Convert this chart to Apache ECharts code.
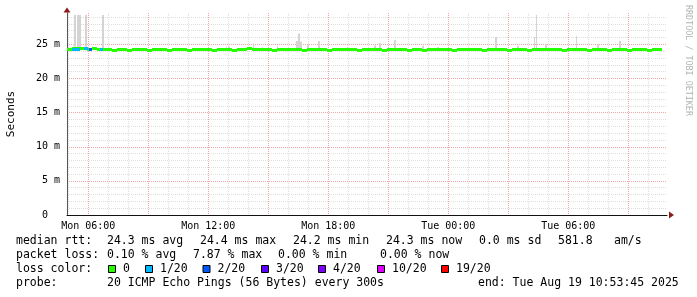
<!DOCTYPE html>
<html><head><meta charset="utf-8">
<script src="https://cdn.jsdelivr.net/npm/echarts@6/dist/echarts.min.js"></script>
<style>html,body{margin:0;padding:0;background:#fff}#c{width:697px;height:297px}</style>
</head><body><div id="c"></div>
<script>
// time in hours since Mon 00:00
const X_MIN = 4.935, X_MAX = 34.935;
const T0 = 4.95, STEP = 0.25;
const median = [
24.3,24.4,24.4,24.4,24.3,24.4,24.3,24.3,24.3,24.2,
24.3,24.3,24.2,24.3,24.3,24.3,24.2,24.3,24.3,24.3,
24.2,24.3,24.3,24.3,24.2,24.3,24.3,24.3,24.3,24.2,
24.3,24.3,24.3,24.2,24.3,24.3,24.4,24.3,24.3,24.3,
24.3,24.2,24.3,24.3,24.3,24.3,24.3,24.2,24.3,24.3,
24.3,24.3,24.2,24.3,24.3,24.3,24.3,24.3,24.2,24.3,
24.3,24.3,24.3,24.2,24.3,24.3,24.3,24.3,24.2,24.3,
24.3,24.2,24.3,24.3,24.3,24.3,24.3,24.2,24.3,24.3,
24.3,24.3,24.3,24.2,24.3,24.3,24.3,24.3,24.2,24.3,
24.3,24.3,24.2,24.3,24.3,24.3,24.3,24.3,24.3,24.2,
24.3,24.3,24.3,24.3,24.2,24.3,24.3,24.3,24.2,24.3,
24.3,24.3,24.2,24.3,24.3,24.3,24.2,24.3,24.3
];
const lossStart = [5.19, 5.76, 6.05, 6.59];
const lossEnd   = [5.59, 5.96, 6.17, 6.76];
const lossCount = [1, 1, 2, 1];
const spikeTime = [5.30,5.45,5.53,5.835,6.685,12.87,12.985,14.22,14.67,15.42,16.41,16.50,16.585,16.935,17.50,18.92,20.285,20.535,21.285,22.685,23.43,26.36,27.435,28.27,28.37,28.835,30.37,31.435,32.535];
const spikeMax  = [29.3,29.3,29.3,29.3,29.3,24.66,24.7,25.2,24.6,24.8,25.5,26.6,25.4,25.06,25.5,24.6,24.85,25.2,25.6,24.8,24.6,26.1,24.8,26.1,29.3,25.06,26.2,25.06,25.5];
const SLOT = 1/12;
const xLabelHours = [6, 12, 18, 24, 30];
const xLabels = ['Mon 06:00','Mon 12:00','Mon 18:00','Tue 00:00','Tue 06:00'];
const xMajorHours = [6,9,12,15,18,21,24,27,30,33];
const xMinorHours = [5,7,8,10,11,13,14,16,17,19,20,22,23,25,26,28,29,31,32,34];
const yMajor = [0,5,10,15,20,25];
const yMinor = [1,2,3,4,6,7,8,9,11,12,13,14,16,17,18,19,21,22,23,24,26,27,28,29];
const Y_MAX = 29.6;
const lossLevels = ['0','1/20','2/20','3/20','4/20','10/20','19/20'];
const lossThresh = [0,1,2,3,4,10,19];
const lossColors = ['#26ff00','#00b8ff','#0059ff','#5e00ff','#7e00ff','#dd00ff','#ff0000'];

const legendRow1 = [[16,'median rtt:'],[107,'24.3 ms avg'],[200,'24.4 ms max'],[293,'24.2 ms min'],[386,'24.3 ms now'],[479,'0.0 ms sd'],[558,'581.8'],[614,'am/s']];
const legendRow2 = [[16,'packet loss:'],[107,'0.10 % avg'],[193,'7.87 % max'],[278,'0.00 % min'],[380,'0.00 % now']];
const legendRow4 = [[16,'probe:'],[107,'20 ICMP Echo Pings (56 Bytes) every 300s'],[478,'end: Tue Aug 19 10:53:45 2025']];
const lossBoxX = [109,146,203.5,262,319,378,442];

function colorFor(n){ let c = lossColors[0]; for (let i=0;i<lossThresh.length;i++) if (n>=lossThresh[i]) c = lossColors[i]; return c; }
function medianAt(t){ let i = Math.floor((t - T0)/STEP); i = Math.max(0, Math.min(median.length-1, i)); return median[i]; }

const medianData = median.map((v,i)=>[T0+i*STEP, v, T0+(i+1)*STEP]);
const lossData = lossStart.map((s,i)=>[s, medianAt(s), lossEnd[i], lossCount[i]]);
const spikeData = spikeTime.map((t,i)=>[t, spikeMax[i], medianAt(t)]);

const MONO = 'DejaVu Sans Mono';
const minorLine = {show:true, lineStyle:{color:'#dedede', width:1, type:[1,1]}};
const majorLine = {show:true, lineStyle:{color:'#f2a6a6', width:1, type:[1,1]}};

function bandItem(params, api, color){
  const a = api.coord([api.value(0), api.value(1)]);
  const b = api.coord([api.value(2), api.value(1)]);
  const x0 = Math.round(a[0]), x1 = Math.round(b[0]);
  const y = Math.round(a[1]) - 1;
  return {type:'rect', shape:{x:x0, y:y, width:Math.max(1,x1-x0), height:3}, style:{fill:color}};
}

const graphics = [];
graphics.push({type:'text', rotation:-Math.PI/2, x:688, y:5, style:{text:'RRDTOOL / TOBI OETIKER', font:'8.4px '+MONO, fill:'#b4b4b4', textAlign:'left', textVerticalAlign:'middle'}});
const rowY = [241.5, 255.5, 269.5, 283.5];
[legendRow1, legendRow2, null, legendRow4].forEach((row, r)=>{
  if (!row) return;
  row.forEach(([x,t])=>graphics.push({type:'text', x:x, y:rowY[r], style:{text:t, font:'11.5px '+MONO, fill:'#000', textVerticalAlign:'middle'}}));
});
graphics.push({type:'text', x:16, y:rowY[2], style:{text:'loss color:', font:'11.5px '+MONO, fill:'#000', textVerticalAlign:'middle'}});
lossBoxX.forEach((bx,i)=>{
  graphics.push({type:'rect', shape:{x:bx-0.5, y:265.5, width:7, height:7}, style:{fill:lossColors[i], stroke:'#000', lineWidth:1}});
  graphics.push({type:'text', x:bx+14, y:rowY[2], style:{text:lossLevels[i], font:'11.5px '+MONO, fill:'#000', textVerticalAlign:'middle'}});
});

const chart = echarts.init(document.getElementById('c'), null, {renderer:'canvas'});
chart.setOption({
  backgroundColor:'#fff',
  animation:false,
  grid:{left:67, right:30, top:13, bottom:82, containLabel:false, outerBoundsMode:'none'},
  xAxis:[
    {type:'value', min:X_MIN, max:X_MAX, position:'bottom',
     axisLine:{show:true, onZero:false, lineStyle:{color:'#111', width:1}},
     axisTick:{show:false, customValues:xMajorHours},
     axisLabel:{customValues:xLabelHours, margin:6, fontFamily:MONO, fontSize:10, color:'#000',
       formatter:(v)=>{const i = xLabelHours.indexOf(Math.round(v)); return i>=0 ? xLabels[i] : '';}},
     splitLine:majorLine},
    {type:'value', min:X_MIN, max:X_MAX, position:'bottom',
     axisLine:{show:true, onZero:false, symbol:['none','triangle'], symbolSize:[7,5], symbolOffset:[0,4.5], lineStyle:{color:'#8b1a1a', width:0}},
     axisTick:{show:false, customValues:xMinorHours},
     axisLabel:{show:false},
     splitLine:minorLine}
  ],
  yAxis:[
    {type:'value', min:0, max:Y_MAX,
     axisLine:{show:true, onZero:false, lineStyle:{color:'#555', width:1}},
     axisTick:{show:false, customValues:yMajor},
     axisLabel:{customValues:yMajor, margin:7, fontFamily:MONO, fontSize:10, color:'#000',
       formatter:(v)=> v===0 ? '0  ' : (v+' m')},
     splitLine:majorLine,
     name:'Seconds', nameLocation:'middle', nameRotate:90, nameGap:50,
     nameTextStyle:{fontFamily:MONO, fontSize:11, color:'#000'}},
    {type:'value', min:0, max:Y_MAX, position:'left',
     axisLine:{show:true, onZero:false, symbol:['none','triangle'], symbolSize:[7,5], symbolOffset:[0,3], lineStyle:{color:'#8b1a1a', width:0}},
     axisTick:{show:false, customValues:yMinor},
     axisLabel:{show:false},
     splitLine:minorLine}
  ],
  series:[
    {type:'custom', name:'smoke', xAxisIndex:0, yAxisIndex:0, clip:true, z:2, data:spikeData,
     renderItem:(params, api)=>{
       const a = api.coord([api.value(0), api.value(1)]);
       const b = api.coord([api.value(0)+SLOT, api.value(2)]);
       const x0 = Math.round(a[0]), x1 = Math.round(b[0]);
       return {type:'rect', shape:{x:x0, y:a[1], width:Math.max(1,x1-x0), height:b[1]-a[1]}, style:{fill:'#d4d4d4'}};
     }},
    {type:'custom', name:'median', xAxisIndex:0, yAxisIndex:0, clip:true, z:3, data:medianData,
     renderItem:(params, api)=>bandItem(params, api, lossColors[0])},
    {type:'custom', name:'loss', xAxisIndex:0, yAxisIndex:0, clip:true, z:4, data:lossData,
     renderItem:(params, api)=>bandItem(params, api, colorFor(api.value(3)))}
  ],
  graphic:graphics
});
</script></body></html>
